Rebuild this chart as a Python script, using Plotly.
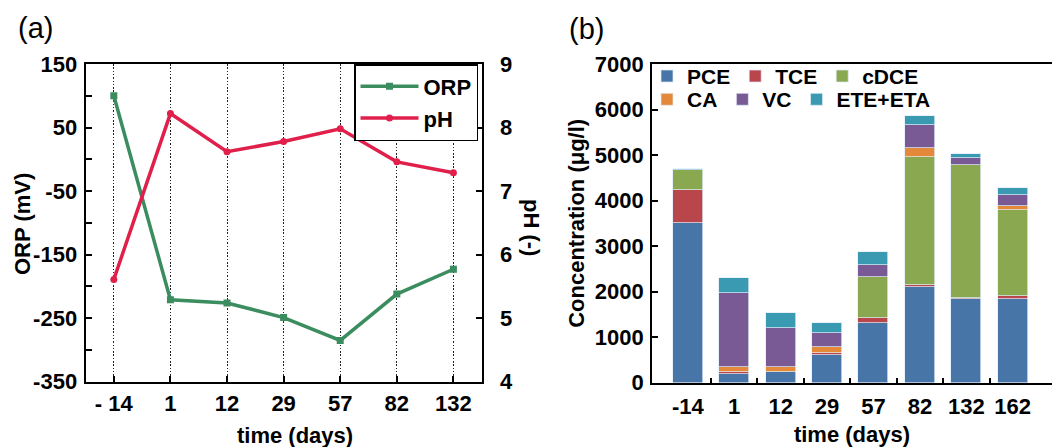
import plotly.graph_objects as go

# ---------------- data ----------------
days_a = ["- 14", "1", "12", "29", "57", "82", "132"]
orp = [100, -221, -226, -249, -285, -212, -173]
ph = [5.61, 8.22, 7.62, 7.78, 7.98, 7.46, 7.29]
orp_ticks = [150, 50, -50, -150, -250, -350]
orp_minor = [100, 0, -100, -200, -300]

days_b = ["-14", "1", "12", "29", "57", "82", "132", "162"]
pce = [3500, 200, 240, 610, 1300, 2090, 1830, 1830]
tce = [730, 40, 0, 30, 125, 65, 35, 75]
cdce = [450, 0, 0, 0, 890, 2810, 2920, 1880]
ca = [0, 110, 110, 150, 0, 185, 0, 90]
vc = [0, 1620, 840, 290, 280, 510, 160, 240]
ete = [15, 320, 345, 235, 275, 205, 75, 160]

FONT = "Liberation Sans, Arial, sans-serif"
BFONT = dict(family=FONT, size=22, color="black", weight="bold")
LFONT = dict(family=FONT, size=22, color="black", weight="bold")
LFONT_B = dict(family=FONT, size=21, color="black", weight="bold")
GREEN = "#3b8d5f"
RED = "#e01f4b"

fig = go.Figure()

fig.add_trace(go.Scatter(
    x=days_a, y=orp, name="ORP", mode="lines+markers",
    line=dict(color=GREEN, width=3.5), marker=dict(symbol="square", size=7, color=GREEN),
    xaxis="x", yaxis="y", legend="legend"))
fig.add_trace(go.Scatter(
    x=days_a, y=ph, name="pH", mode="lines+markers",
    line=dict(color=RED, width=3.5), marker=dict(symbol="circle", size=7, color=RED),
    xaxis="x", yaxis="y2", legend="legend"))

xb = list(range(len(days_b)))
series = [
    ("PCE", pce, "#4775a8", "legend2"),
    ("TCE", tce, "#b8464b", "legend2"),
    ("cDCE", cdce, "#89a84f", "legend2"),
    ("CA", ca, "#e4883a", "legend3"),
    ("VC", vc, "#795a94", "legend3"),
    ("ETE+ETA", ete, "#3a9ab2", "legend3"),
]
for name, vals, color, leg in series:
    fig.add_trace(go.Bar(
        x=xb, y=vals, name=name, width=0.646,
        marker=dict(color=color, line=dict(color="rgba(225,236,248,0.9)", width=0.8)),
        xaxis="x2", yaxis="y3", legend=leg))

axis_common = dict(showline=True, linecolor="black", linewidth=2, zeroline=False,
                   tickcolor="black", tickwidth=2, tickfont=BFONT, automargin=False)

fig.update_layout(
    width=1052, height=447, autosize=False,
    margin=dict(l=0, r=0, t=0, b=0, autoexpand=False),
    paper_bgcolor="white", plot_bgcolor="white",
    barmode="stack", bargap=0,
    font=dict(family=FONT, color="black"),
    xaxis=dict(domain=[0.0813, 0.4579], type="category", range=[-0.5, 6.5],
               mirror=True, ticks="inside", ticklen=6,
               showgrid=True, gridcolor="#222222", griddash="1.5px,1.8px", gridwidth=1.2,
               ticklabelstandoff=1, anchor="y",
               **axis_common),
    yaxis=dict(domain=[0.146, 0.8568], range=[-350, 150],
               tickmode="array", tickvals=orp_ticks, ticktext=[str(v) for v in orp_ticks],
               minor=dict(tickmode="array", tickvals=orp_minor,
                          ticks="inside", ticklen=6, tickwidth=2, tickcolor="black", showgrid=False),
               mirror=True, ticks="inside", ticklen=6, showgrid=False, anchor="x",
               ticklabelstandoff=2,
               **axis_common),
    yaxis2=dict(overlaying="y", side="right", range=[4, 9], dtick=1, anchor="x",
                ticks="inside", ticklen=6, showgrid=False, ticklabelstandoff=12,
                **axis_common),
    xaxis2=dict(domain=[0.6198, 1.0], range=[-0.771, 7.846], anchor="y3",
                tickmode="array", tickvals=xb, ticktext=days_b, ticks="",
                minor=dict(tickmode="array", tickvals=[i + 0.5 for i in xb[:-1]],
                           ticks="inside", ticklen=5, tickwidth=2, tickcolor="black", showgrid=False),
                mirror=True, showgrid=False, ticklabelstandoff=3,
                title=dict(text="time (days)", font=BFONT, standoff=9),
                **axis_common),
    yaxis3=dict(domain=[0.144, 0.8568], range=[0, 7000], dtick=1000, anchor="x2",
                ticks="inside", ticklen=6, showgrid=False, ticklabelstandoff=2,
                title=dict(text="Concentration (μg/l)", font=BFONT, standoff=4),
                **axis_common),
    legend=dict(x=354 / 1052, y=0.8568, xanchor="left", yanchor="top",
                bgcolor="white", bordercolor="black", borderwidth=1.5,
                font=LFONT, tracegroupgap=0, itemwidth=58),
    legend2=dict(x=647 / 1052, y=0.875, xanchor="left", yanchor="top", orientation="h",
                 bgcolor="rgba(0,0,0,0)", font=LFONT_B, traceorder="normal"),
    legend3=dict(x=647 / 1052, y=0.823, xanchor="left", yanchor="top", orientation="h",
                 bgcolor="rgba(0,0,0,0)", font=LFONT_B, traceorder="normal"),
    annotations=[
        dict(text="ORP (mV)", textangle=-90, x=22 / 1052, y=1 - 224 / 447, xref="paper", yref="paper",
             showarrow=False, font=BFONT, xanchor="center", yanchor="middle"),
        dict(text="time (days)", x=295 / 1052, y=1 - 435 / 447, xref="paper", yref="paper",
             showarrow=False, font=BFONT, xanchor="center", yanchor="middle"),
        dict(text="pH (-)", textangle=90, x=532 / 1052, y=1 - 227 / 447, xref="paper", yref="paper",
             showarrow=False, font=BFONT, xanchor="center", yanchor="middle"),
        dict(text="(a)", x=35 / 1052, y=1 - 28 / 447, xref="paper", yref="paper", showarrow=False,
             font=dict(family=FONT, size=29, color="black"), xanchor="center", yanchor="middle"),
        dict(text="(b)", x=586 / 1052, y=1 - 29 / 447, xref="paper", yref="paper", showarrow=False,
             font=dict(family=FONT, size=29, color="black"), xanchor="center", yanchor="middle"),
    ],
)

fig.write_html("out.html", config={"displayModeBar": False},
               post_script="document.body.style.margin='0';document.body.style.overflow='hidden';")
